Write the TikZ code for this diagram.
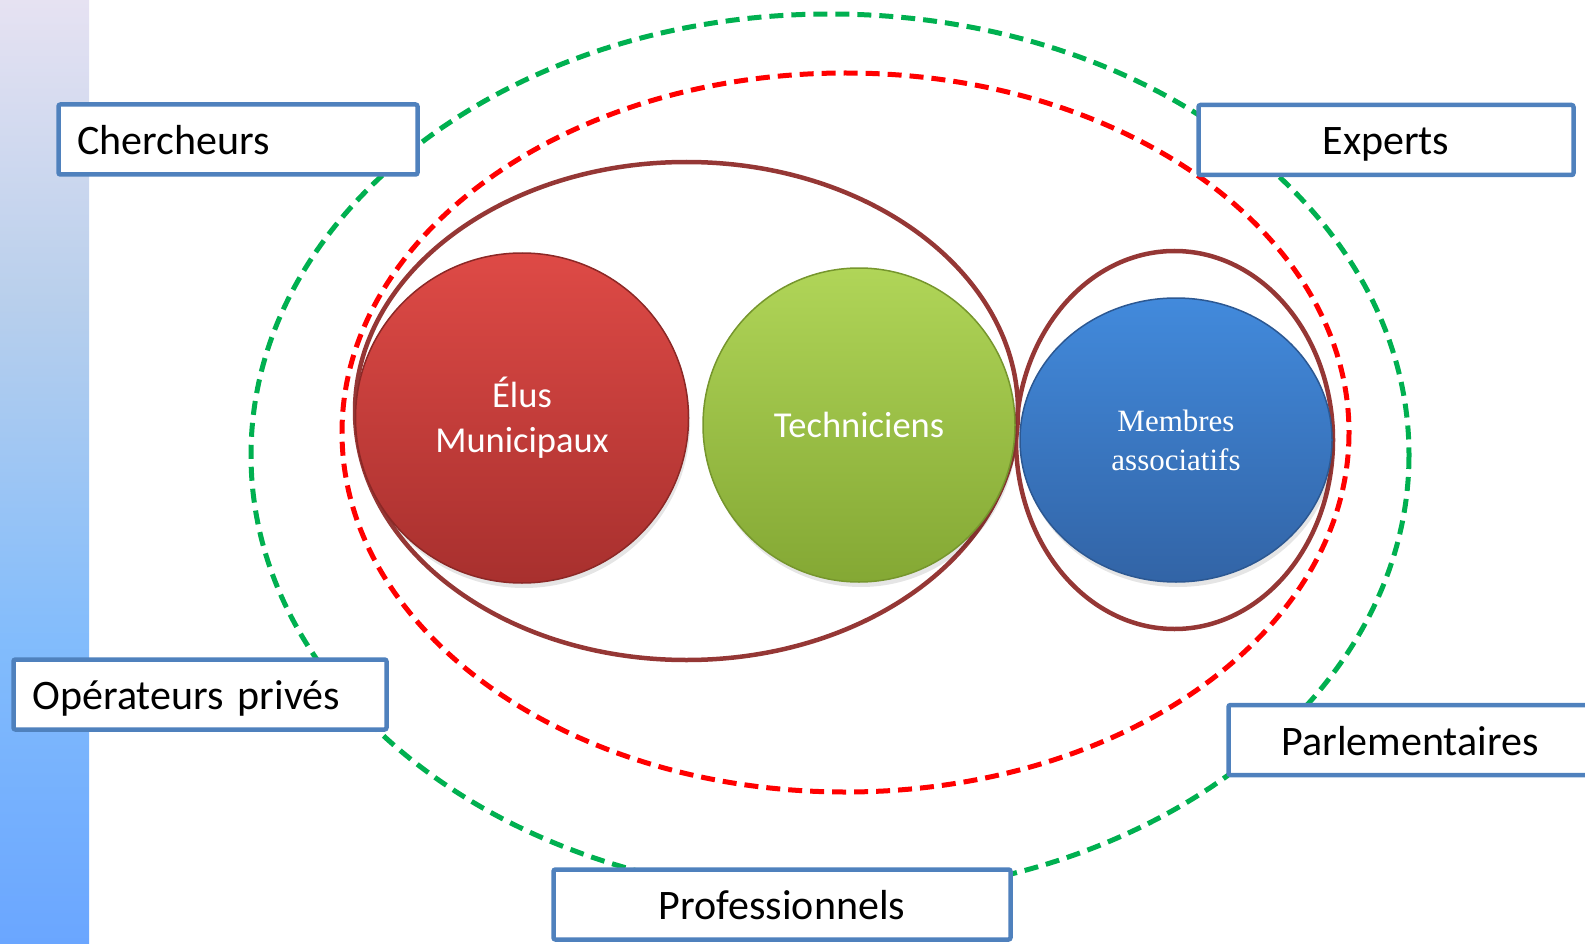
\documentclass[tikz,border=0pt]{standalone}
\usepackage{fontspec}
\setmainfont{Carlito}
\newfontfamily\serifface{Liberation Serif}
\usetikzlibrary{shapes.geometric}
\definecolor{boxblue}{RGB}{79,129,189}
\definecolor{dashgreen}{RGB}{0,176,80}
\definecolor{dashred}{RGB}{255,0,0}
\definecolor{brownred}{RGB}{149,55,53}
\definecolor{barA}{RGB}{230,226,242}
\definecolor{barB}{RGB}{184,207,236}
\definecolor{barC}{RGB}{130,188,252}
\definecolor{barD}{RGB}{106,166,255}
\definecolor{redtop}{RGB}{222,74,70}
\definecolor{redbot}{RGB}{168,48,46}
\definecolor{redrim}{RGB}{140,40,38}
\definecolor{greentop}{RGB}{176,213,88}
\definecolor{greenbot}{RGB}{132,168,52}
\definecolor{greenrim}{RGB}{118,150,45}
\definecolor{bluetop}{RGB}{66,138,220}
\definecolor{bluebot}{RGB}{50,100,166}
\definecolor{bluerim}{RGB}{44,88,146}
\pgfdeclareverticalshading{leftbar}{100bp}{color(0bp)=(barD); color(25bp)=(barD); color(41bp)=(barC); color(59bp)=(barB); color(75bp)=(barA); color(100bp)=(barA)}
\tikzset{
  labelbox/.style={draw=boxblue, line width=4.5pt, fill=white, rounded corners=2pt,
    minimum height=70pt, inner ysep=0pt, text height=30pt, text depth=0pt,
    font=\fontsize{42}{50}\selectfont},
  leftbox/.style={labelbox, align=left, inner xsep=19pt},
  centerbox/.style={labelbox, align=center, inner xsep=0pt},
  ring/.style={draw=brownred, line width=4.5pt},
  greendash/.style={draw=dashgreen, line width=5pt, dash pattern=on 14pt off 8pt},
  reddash/.style={draw=dashred, line width=5pt, dash pattern=on 14pt off 8pt},
  ball/.style={ellipse, inner sep=0pt, text=white, align=center, line width=1.5pt},
  shadowball/.style={fill=black, opacity=0.10},
}
\begin{document}
\begin{tikzpicture}[x=1pt, y=-1pt]
\useasboundingbox (0,0) rectangle (1585,944);
\clip (0,0) rectangle (1585,944);
% left bar
\shade[shading=leftbar] (0,0) rectangle (89,944);
% dashed ellipses
\coordinate (gc) at (830,455);
\coordinate (rc) at (845.5,432.5);
\coordinate (bigc) at (686.5,411);
\coordinate (smallc) at (1174.5,440);
\draw[greendash] (gc) ellipse [x radius=579, y radius=441];
\draw[reddash] (rc) ellipse [x radius=503.5, y radius=359.5];
% solid rings
\draw[ring] (bigc) ellipse [x radius=331.5, y radius=249];
\draw[ring] (smallc) ellipse [x radius=158.5, y radius=189];
% shadows
\fill[shadowball] (524,423) ellipse [x radius=166, y radius=165];
\fill[shadowball] (861,430) ellipse [x radius=156, y radius=157];
\fill[shadowball] (1178,445) ellipse [x radius=156, y radius=142];
% balls
\node[ball, draw=redrim, top color=redtop, bottom color=redbot,
  minimum width=333pt, minimum height=330pt,
  font=\fontsize{36.5}{45}\selectfont] (elus) at (522,418) {Élus\\Municipaux};
\node[ball, draw=greenrim, top color=greentop, bottom color=greenbot,
  minimum width=312pt, minimum height=314pt,
  font=\fontsize{36.5}{45}\selectfont] (tech) at (859,425) {Techniciens};
\node[ball, draw=bluerim, top color=bluetop, bottom color=bluebot,
  minimum width=312pt, minimum height=284pt,
  font=\serifface\fontsize{31}{39}\selectfont] (memb) at (1176,440) {Membres\\associatifs};
% label boxes
\node[leftbox, minimum width=359pt, text width=321pt] (cher) at (238,139.5) {Chercheurs};
\node[leftbox, minimum width=373pt, text width=335pt] (oper) at (200,694.5) {Opérateurs privés};
\node[centerbox, minimum width=375pt] (expe) at (1386,140) {Experts};
\node[centerbox, minimum width=363pt] (parl) at (1410,740) {Parlementaires};
\node[centerbox, minimum width=457pt] (prof) at (782,904.5) {Professionnels};
\end{tikzpicture}
\end{document}
